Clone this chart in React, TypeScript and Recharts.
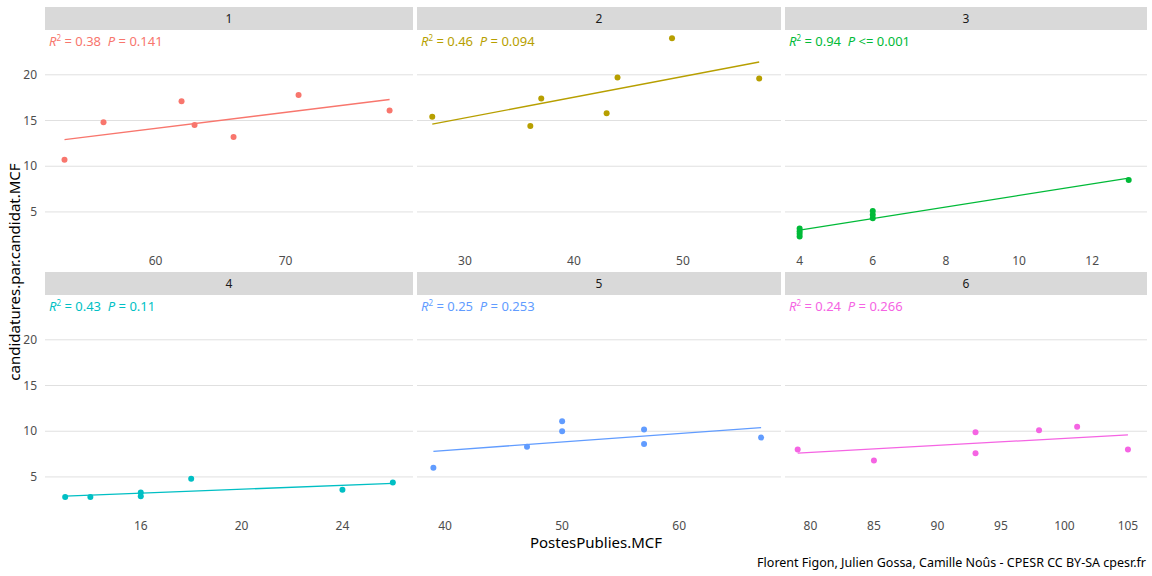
import React from "react";
import { ComposedChart, Scatter, XAxis, YAxis, ReferenceLine } from "recharts";

const panelIds = ["1", "2", "3", "4", "5", "6"];
const colors = ["#F8766D", "#B79F00", "#00BA38", "#00BFC4", "#619CFF", "#F564E3"];
const r2Labels = ["0.38", "0.46", "0.94", "0.43", "0.25", "0.24"];
const pLabels = ["= 0.141", "= 0.094", "<= 0.001", "= 0.11", "= 0.253", "= 0.266"];
const xDomains: [number, number][] = [[51.5, 79.8], [25.6, 59], [3.6, 13.5], [12.2, 26.8], [37.6, 68.7], [78, 106.5]];
const xTicks = [[60, 70], [30, 40, 50], [4, 6, 8, 10, 12], [16, 20, 24], [40, 50, 60], [80, 85, 90, 95, 100, 105]];
const pointsX = [
  [53, 56, 62, 63, 66, 71, 78],
  [27, 36, 37, 43, 44, 49, 57],
  [4, 4, 4, 4, 6, 6, 6, 13],
  [13, 14, 16, 16, 18, 24, 26],
  [39, 47, 50, 50, 57, 57, 67],
  [79, 85, 93, 93, 98, 101, 105],
];
const pointsY = [
  [10.7, 14.8, 17.1, 14.5, 13.2, 17.8, 16.1],
  [15.4, 14.4, 17.4, 15.8, 19.7, 24, 19.6],
  [2.3, 2.6, 2.9, 3.2, 4.3, 4.7, 5.1, 8.5],
  [2.8, 2.8, 3.3, 2.9, 4.8, 3.6, 4.4],
  [6.0, 8.3, 11.1, 10.0, 10.2, 8.6, 9.3],
  [8.0, 6.8, 9.9, 7.6, 10.1, 10.5, 8.0],
];
const fitX = [[53, 78], [27, 57], [4, 13], [13, 26], [39, 67], [79, 105]];
const fitY = [[12.9, 17.3], [14.6, 21.4], [3.0, 8.7], [2.9, 4.3], [7.8, 10.4], [7.6, 9.6]];
const yTicks = [5, 10, 15, 20];

const colX = [45, 417, 785];
const colW = [368, 364, 362];
const rowTop = [30, 295];
const plotH = 218.5;
const font = "'Noto Sans', 'DejaVu Sans', sans-serif";

function Panel({ i }: { i: number }) {
  const col = i % 3;
  const row = Math.floor(i / 3);
  const left = col === 0;
  const yw = left ? 30 : 0;
  const pts = pointsX[i].map((x, k) => ({ x, y: pointsY[i][k] }));
  const fit = fitX[i].map((x, k) => ({ x, y: fitY[i][k] }));
  return (
    <div style={{ position: "absolute", left: colX[col] - yw, top: rowTop[row] }}>
      <ComposedChart width={colW[col] + yw} height={plotH + 22} margin={{ top: 0, right: 0, bottom: 0, left: 0 }}>
        <XAxis type="number" dataKey="x" domain={xDomains[i]} ticks={xTicks[i]} allowDataOverflow
          axisLine={false} tickLine={false} height={22} tick={{ fill: "#4d4d4d", fontSize: 12, fontFamily: font }} />
        <YAxis type="number" dataKey="y" domain={[1, 24.9]} ticks={yTicks} allowDataOverflow hide={!left}
          width={yw} axisLine={false} tickLine={false} tick={{ fill: "#4d4d4d", fontSize: 12, fontFamily: font }} />
        {yTicks.map((t) => <ReferenceLine key={t} y={t} stroke="#e0e0e0" strokeWidth={1} />)}
        <Scatter data={fit} line={{ stroke: colors[i], strokeWidth: 1.3 }} shape={() => <g />} isAnimationActive={false} />
        <Scatter data={pts} fill={colors[i]} shape={(p: any) => <circle cx={p.cx} cy={p.cy} r={3} fill={colors[i]} />} isAnimationActive={false} />
      </ComposedChart>
      <div style={{ position: "absolute", left: yw + 4, top: 2, color: colors[i], fontSize: 13, fontFamily: font, whiteSpace: "nowrap" }}>
        <i>R</i><sup style={{ fontSize: 8 }}>2</sup> = {r2Labels[i]}&nbsp;&nbsp;<i>P</i> {pLabels[i]}
      </div>
    </div>
  );
}

export default function App() {
  return (
    <div style={{ position: "absolute", left: 0, top: 0, width: 1152, height: 576, background: "#fff", fontFamily: font }}>
      {panelIds.map((id, i) => (
        <div key={"s" + id} style={{
          position: "absolute", left: colX[i % 3], top: Math.floor(i / 3) === 0 ? 7 : 272, width: colW[i % 3], height: 23,
          background: "#d9d9d9", color: "#1a1a1a", fontSize: 12, textAlign: "center", lineHeight: "23px",
        }}>{id}</div>
      ))}
      {panelIds.map((id, i) => <Panel key={id} i={i} />)}
      <div style={{ position: "absolute", left: 14, top: 272, transform: "translate(-50%,-50%) rotate(-90deg)", fontSize: 15, color: "#000", whiteSpace: "nowrap" }}>
        candidatures.par.candidat.MCF
      </div>
      <div style={{ position: "absolute", left: 596, top: 542, transform: "translate(-50%,-50%)", fontSize: 15, color: "#000", whiteSpace: "nowrap" }}>
        PostesPublies.MCF
      </div>
      <div style={{ position: "absolute", right: 6, top: 554, fontSize: 12.5, color: "#000", whiteSpace: "nowrap" }}>
        Florent Figon, Julien Gossa, Camille Noûs - CPESR CC BY-SA cpesr.fr
      </div>
    </div>
  );
}
